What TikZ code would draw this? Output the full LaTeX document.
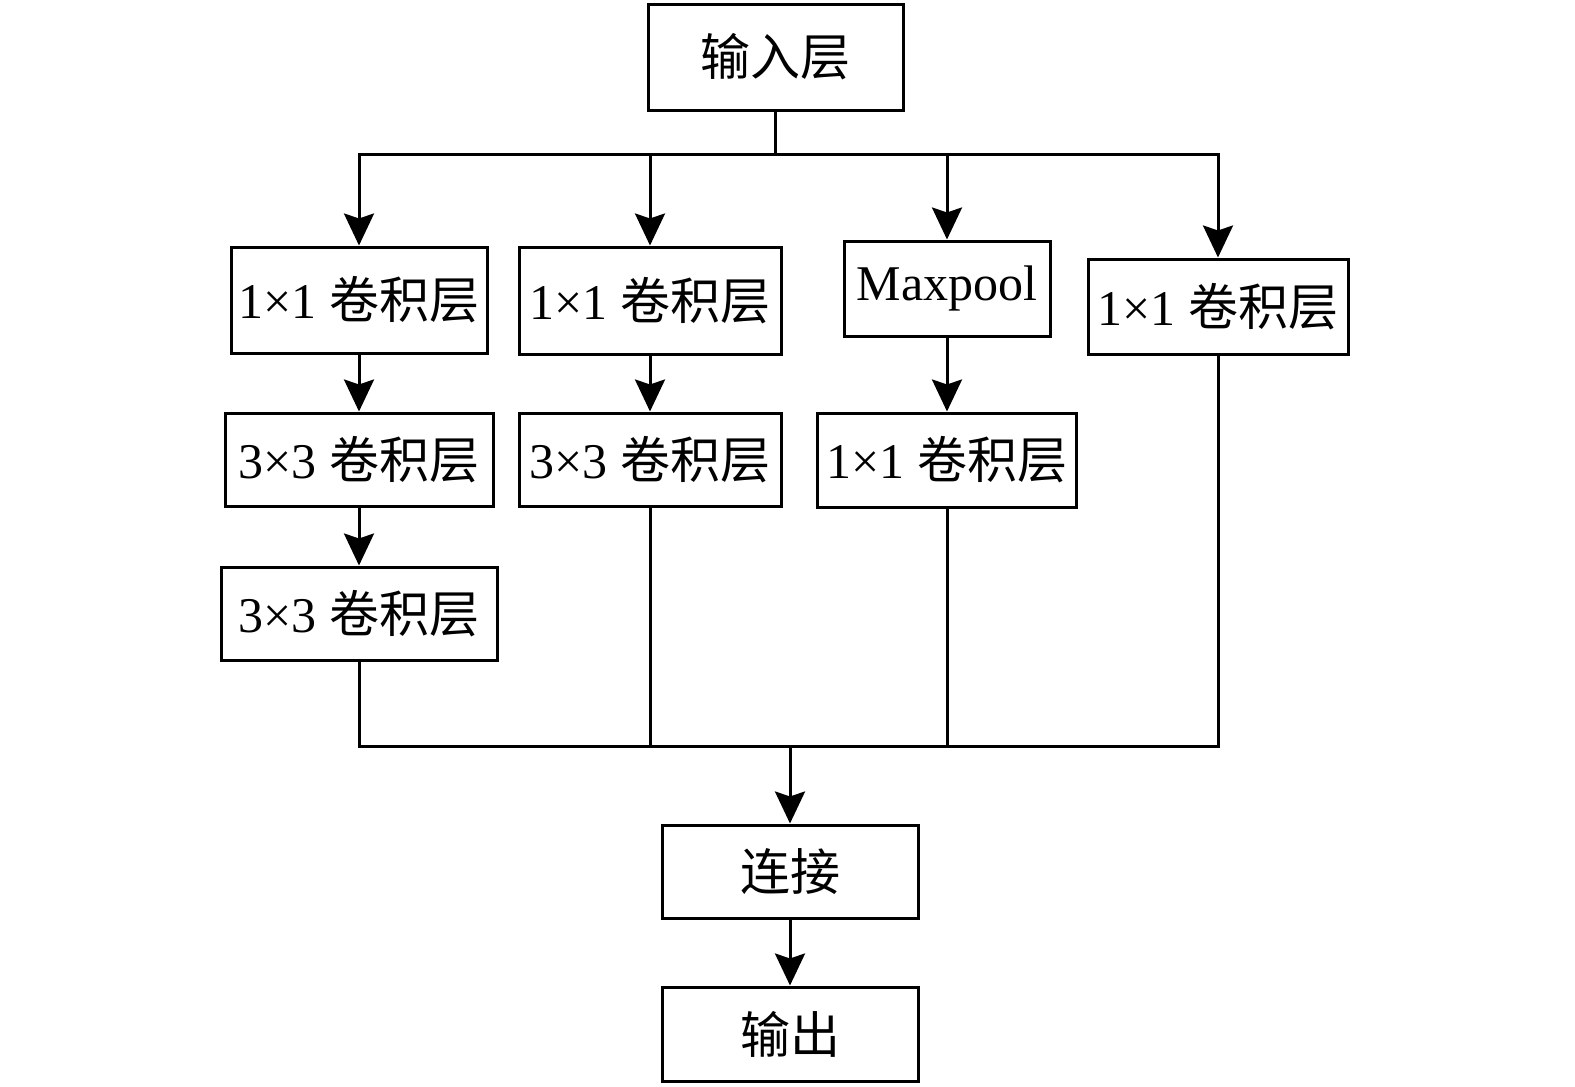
\documentclass[tikz,border=0pt]{standalone}
\usepackage{fontspec}
\setmainfont{Liberation Serif}
\newfontfamily\cjk{Noto Sans CJK SC}
\usetikzlibrary{arrows.meta,calc}
\begin{document}
\begin{tikzpicture}[x=0.5pt,y=-0.5pt,
  box/.style={draw,line width=1.5pt,rectangle,inner sep=0pt,align=center,
    font=\fontsize{25}{28}\selectfont},
  conn/.style={line width=1.5pt},
  arr/.style={line width=1.5pt,-{Stealth[length=16pt,width=15pt,inset=2.5pt]}}]
\useasboundingbox (0,0) rectangle (1575,1087);
\fill[white] (0,0) rectangle (1575,1087);
% nodes
\node[box,minimum width=127.5pt,minimum height=53pt] (in) at (775.5,57) {\cjk 输入层};
\node[box,minimum width=128pt,minimum height=53pt] (A1) at (359,300) {1×1 {\cjk 卷积层}};
\node[box,minimum width=134pt,minimum height=46.5pt] (A2) at (359,459.5) {3×3 {\cjk 卷积层}};
\node[box,minimum width=138pt,minimum height=46.5pt] (A3) at (359,613.5) {3×3 {\cjk 卷积层}};
\node[box,minimum width=131pt,minimum height=53.5pt] (B1) at (650,300.5) {1×1 {\cjk 卷积层}};
\node[box,minimum width=131pt,minimum height=46.5pt] (B2) at (650,459.5) {3×3 {\cjk 卷积层}};
\node[box,minimum width=103pt,minimum height=47.5pt] (C1) at (947,288.5) {Maxpool};
\node[box,minimum width=129.5pt,minimum height=47pt] (C2) at (947,460) {1×1 {\cjk 卷积层}};
\node[box,minimum width=130pt,minimum height=47.5pt] (D1) at (1218,306.5) {1×1 {\cjk 卷积层}};
\node[box,minimum width=128pt,minimum height=46.5pt] (cat) at (790,871.5) {\cjk 连接};
\node[box,minimum width=128pt,minimum height=47pt] (out) at (790,1034) {\cjk 输出};
% buses
\coordinate (top) at (775.5,154);
\coordinate (bot) at (790,746);
% top bus
\draw[conn] (in.south) -- (top);
\draw[conn,line cap=rect] (A1.north |- top) -- (D1.north |- top);
\draw[arr] (A1.north |- top) -- (A1.north);
\draw[arr] (B1.north |- top) -- (B1.north);
\draw[arr] (C1.north |- top) -- (C1.north);
\draw[arr] (D1.north |- top) -- (D1.north);
% column arrows
\draw[arr] (A1.south) -- (A2.north);
\draw[arr] (A2.south) -- (A3.north);
\draw[arr] (B1.south) -- (B2.north);
\draw[arr] (C1.south) -- (C2.north);
% bottom bus
\draw[conn] (A3.south) -- (A3.south |- bot);
\draw[conn] (B2.south) -- (B2.south |- bot);
\draw[conn] (C2.south) -- (C2.south |- bot);
\draw[conn] (D1.south) -- (D1.south |- bot);
\draw[conn,line cap=rect] (A3.south |- bot) -- (D1.south |- bot);
\draw[arr] (bot) -- (cat.north);
\draw[arr] (cat.south) -- (out.north);
\end{tikzpicture}
\end{document}
